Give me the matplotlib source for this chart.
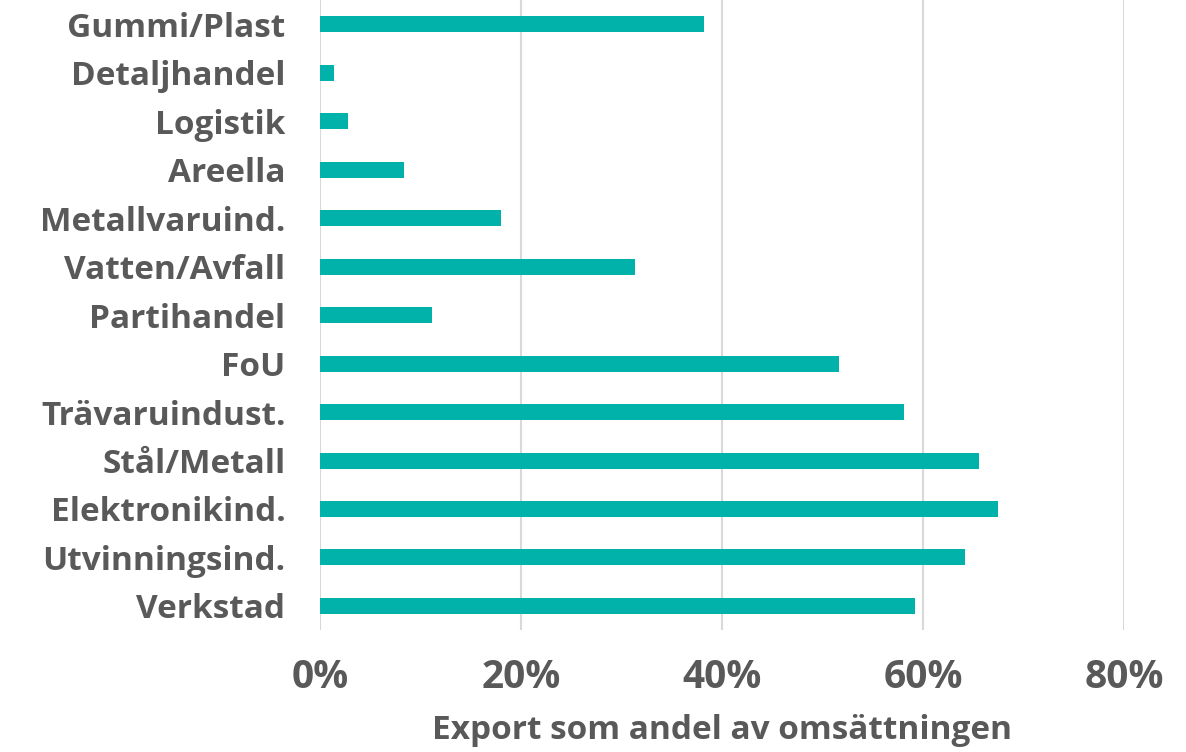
import matplotlib.pyplot as plt
from matplotlib.ticker import PercentFormatter

# ==============================
# Data
# ==============================

branscher = ["Gummi/Plast", "Detaljhandel", "Logistik", "Areella", "Metallvaruind.",
             "Vatten/Avfall", "Partihandel", "FoU", "Trävaruindust.", "Stål/Metall",
             "Elektronikind.", "Utvinningsind.", "Verkstad"]
exportandel = [38.2, 1.4, 2.8, 8.3, 18.0, 31.3, 11.1, 51.6, 58.1, 65.5, 67.4, 64.1, 59.2]

# ==============================
# Plot
# ==============================

plt.rcParams["font.family"] = ["Open Sans", "DejaVu Sans"]
text_color = "#595959"

fig = plt.figure(figsize=(11.86, 7.52), dpi=100)
ax = fig.add_axes([0.270, 0.162, 0.678, 0.838])

pos = list(range(len(branscher)))[::-1]
ax.barh(pos, exportandel, height=0.33, color="#00B2A9", zorder=3)

ax.set_xlim(0, 80)
ax.set_ylim(-0.5, len(branscher) - 0.5)
ax.set_xticks([0, 20, 40, 60, 80])
ax.xaxis.set_major_formatter(PercentFormatter(decimals=0))
ax.set_yticks(pos)
ax.set_yticklabels(branscher)

ax.grid(axis="x", color="#d9d9d9", linewidth=1.5, zorder=0)
for s in ax.spines.values():
    s.set_visible(False)
ax.tick_params(axis="both", length=0)
ax.tick_params(axis="x", pad=20, labelsize=28, labelcolor=text_color)
ax.tick_params(axis="y", pad=25, labelsize=24, labelcolor=text_color)
for lbl in ax.get_xticklabels() + ax.get_yticklabels():
    lbl.set_fontweight("bold")

ax.set_xlabel("Export som andel av omsättningen", fontsize=24, fontweight="bold",
              color=text_color, labelpad=12)

fig.savefig("out.png", dpi=100)
